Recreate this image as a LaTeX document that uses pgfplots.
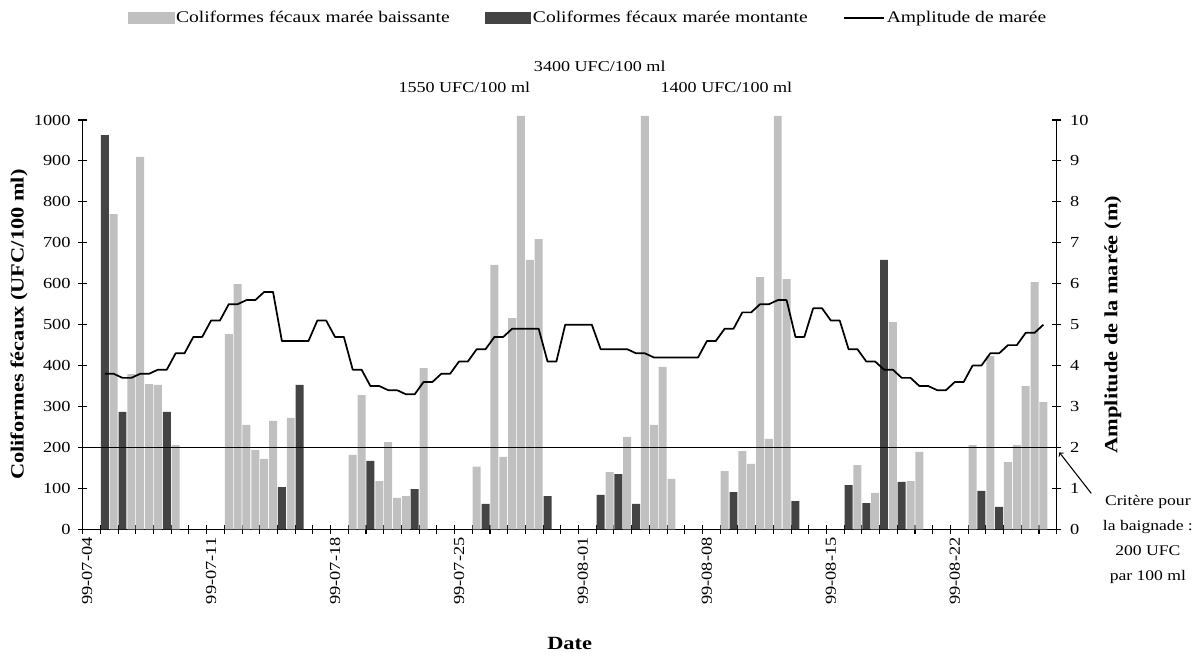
\documentclass[border=0pt]{standalone}
\usepackage{fontspec}
\setmainfont{Liberation Serif}[FakeStretch=1.2]
\usepackage{pgfplots}
\usepackage{pgfplotstable}
\pgfplotsset{compat=1.18}
\definecolor{lightbar}{RGB}{192,192,192}
\definecolor{darkbar}{RGB}{68,68,68}

% x = half-day slot centre (slot 0 = 99-07-04, first tide)
\pgfplotstableread{
x val
3.5 770
5.5 379
6.5 910
7.5 355
8.5 353
10.5 206
16.5 477
17.5 599
18.5 255
19.5 194
20.5 172
21.5 265
23.5 272
30.5 182
31.5 328
33.5 118
34.5 213
35.5 77
36.5 81
38.5 394
44.5 153
46.5 646
47.5 177
48.5 516
49.5 1550
50.5 658
51.5 709
59.5 140
61.5 226
63.5 3400
64.5 255
65.5 397
66.5 123
72.5 142
74.5 191
75.5 160
76.5 616
77.5 221
78.5 1400
79.5 611
87.5 157
89.5 89
91.5 506
93.5 118
94.5 189
100.5 206
102.5 423
104.5 164
105.5 206
106.5 350
107.5 604
108.5 311
}\baissante

\pgfplotstableread{
x val
2.5 963
4.5 287
9.5 287
22.5 103
24.5 353
32.5 167
37.5 98
45.5 62
52.5 81
58.5 84
60.5 135
62.5 62
73.5 91
80.5 69
86.5 108
88.5 64
90.5 658
92.5 116
101.5 94
103.5 55
}\montante

\pgfplotstableread{
x amp
2.5 3.8
3.5 3.8
4.5 3.7
5.5 3.7
6.5 3.8
7.5 3.8
8.5 3.9
9.5 3.9
10.5 4.3
11.5 4.3
12.5 4.7
13.5 4.7
14.5 5.1
15.5 5.1
16.5 5.5
17.5 5.5
18.5 5.6
19.5 5.6
20.5 5.8
21.5 5.8
22.5 4.6
23.5 4.6
24.5 4.6
25.5 4.6
26.5 5.1
27.5 5.1
28.5 4.7
29.5 4.7
30.5 3.9
31.5 3.9
32.5 3.5
33.5 3.5
34.5 3.4
35.5 3.4
36.5 3.3
37.5 3.3
38.5 3.6
39.5 3.6
40.5 3.8
41.5 3.8
42.5 4.1
43.5 4.1
44.5 4.4
45.5 4.4
46.5 4.7
47.5 4.7
48.5 4.9
49.5 4.9
50.5 4.9
51.5 4.9
52.5 4.1
53.5 4.1
54.5 5.0
55.5 5.0
56.5 5.0
57.5 5.0
58.5 4.4
59.5 4.4
60.5 4.4
61.5 4.4
62.5 4.3
63.5 4.3
64.5 4.2
65.5 4.2
66.5 4.2
67.5 4.2
68.5 4.2
69.5 4.2
70.5 4.6
71.5 4.6
72.5 4.9
73.5 4.9
74.5 5.3
75.5 5.3
76.5 5.5
77.5 5.5
78.5 5.6
79.5 5.6
80.5 4.7
81.5 4.7
82.5 5.4
83.5 5.4
84.5 5.1
85.5 5.1
86.5 4.4
87.5 4.4
88.5 4.1
89.5 4.1
90.5 3.9
91.5 3.9
92.5 3.7
93.5 3.7
94.5 3.5
95.5 3.5
96.5 3.4
97.5 3.4
98.5 3.6
99.5 3.6
100.5 4.0
101.5 4.0
102.5 4.3
103.5 4.3
104.5 4.5
105.5 4.5
106.5 4.8
107.5 4.8
108.5 5.0
}\maree

\pgfplotsset{
  common/.style={
    width=730.5pt, height=307pt, scale only axis,
    at={(62pt,95pt)}, anchor=south west,
    xmin=0, xmax=110,
    axis line style={-, line width=0.8pt, black},
    tick align=center, major tick length=7pt,
    tick style={line width=0.8pt, black},
    /pgf/number format/assume math mode=true,
    /pgf/number format/1000 sep={},
    tick label style={font=\fontsize{11.5}{13}\selectfont},
    clip=false,
  }
}

\begin{document}
\begin{tikzpicture}
\path[use as bounding box] (0,0) rectangle (898.5pt,492pt);

\begin{axis}[common,
  ymin=0, ymax=1000,
  axis x line*=bottom, axis y line*=left,
  xtick={0,2,...,110}, xticklabels={},
  extra x ticks={0.5,14.5,28.5,42.5,56.5,70.5,84.5,98.5},
  extra x tick labels={99-07-04,99-07-11,99-07-18,99-07-25,99-08-01,99-08-08,99-08-15,99-08-22},
  extra x tick style={major tick length=0pt,
    tick label style={rotate=90, anchor=east, xshift=-2.5pt}},
  ytick={0,100,...,1000},
  yticklabel style={xshift=-2pt},
  ylabel={Coliformes fécaux (UFC/100 ml)},
  ylabel style={font=\bfseries\fontsize{14}{16}\selectfont,
    at={(axis description cs:-0.0654,0.5)}, anchor=center},
  xlabel={Date},
  xlabel style={font=\bfseries\fontsize{14}{16}\selectfont,
    at={(axis description cs:0.5,-0.2778)}, anchor=center},
]
\addplot[ybar, bar width=0.9, bar shift=0pt, fill=lightbar, draw=none,
  restrict y to domain*=0:1010] table[x=x, y=val] {\baissante};
\addplot[ybar, bar width=0.9, bar shift=0pt, fill=darkbar, draw=none]
  table[x=x, y=val] {\montante};
\addplot[line width=1.3pt, black] coordinates {(0.5,200) (109.5,200)};

\node[font=\fontsize{11.3}{13}\selectfont] at (axis cs:43.1,1080) {1550 UFC/100 ml};
\node[font=\fontsize{11.3}{13}\selectfont] at (axis cs:58.4,1130) {3400 UFC/100 ml};
\node[font=\fontsize{11.3}{13}\selectfont] at (axis cs:72.7,1080) {1400 UFC/100 ml};
\node[font=\fontsize{11}{18.75}\selectfont, align=center] at (axis cs:120.3,-25)
  {Critère pour\\la baignade :\\200 UFC\\par 100 ml};
\draw[->, line width=0.8pt] (axis cs:113.9,88) -- (axis cs:110.3,188);
\end{axis}

\begin{axis}[common,
  ymin=0, ymax=10,
  axis y line*=right, axis x line=none,
  ytick={0,1,...,10},
  yticklabel style={xshift=3pt},
  ylabel={Amplitude de la marée (m)},
  ylabel style={font=\bfseries\fontsize{14}{16}\selectfont,
    at={(axis description cs:1.0578,0.5)}, anchor=center},
  legend columns=3,
  legend style={draw=none, fill=none, inner sep=0pt,
    at={(0.0465,1.249)}, anchor=west,
    font=\fontsize{12.2}{14}\selectfont,
    nodes={inner xsep=1.5pt, inner ysep=0pt},
    /tikz/every even column/.append style={column sep=25pt}},
]
\addlegendimage{legend image code/.code={\fill[lightbar] (0pt,-4.1pt) rectangle (34pt,4.1pt);}}
\addlegendentry{Coliformes fécaux marée baissante}
\addlegendimage{legend image code/.code={\fill[darkbar] (0pt,-4.1pt) rectangle (34pt,4.1pt);}}
\addlegendentry{Coliformes fécaux marée montante}
\addplot[line width=1.3pt, black, line join=round, mark=none,
  legend image code/.code={\draw[line width=1.3pt] (0pt,0pt) -- (30pt,0pt);}]
  table[x=x, y=amp] {\maree};
\addlegendentry{Amplitude de marée}
\end{axis}
\end{tikzpicture}
\end{document}
